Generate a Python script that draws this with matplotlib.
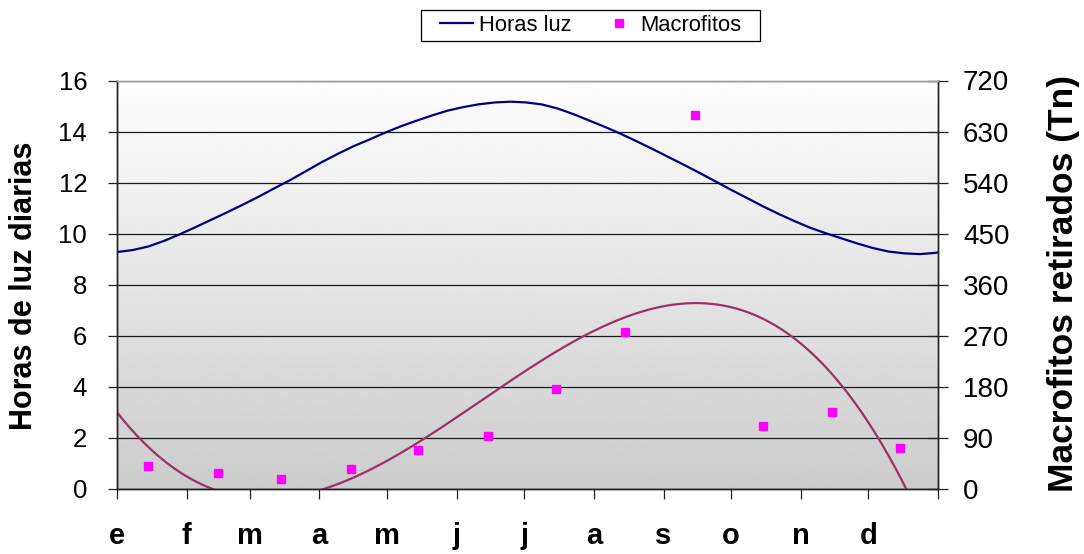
import numpy as np
import matplotlib
matplotlib.use("Agg")
import matplotlib.pyplot as plt
from matplotlib.lines import Line2D
from matplotlib.patches import Rectangle

plt.rcParams['font.family'] = ['Liberation Sans', 'DejaVu Sans']

# Month labels and the day of year on which each month starts
months = ['e', 'f', 'm', 'a', 'm', 'j', 'j', 'a', 's', 'o', 'n', 'd']
month_start = [0, 31, 59, 90, 120, 151, 181, 212, 243, 273, 304, 334]
year_end = 365

# Daily light hours, sampled weekly through the year (day of year, hours)
light_day = [0, 7, 14, 21, 28, 35, 42, 49, 56, 63, 70, 77, 84, 91, 98, 105,
             112, 119, 126, 133, 140, 147, 154, 161, 168, 175, 182, 189, 196,
             203, 210, 217, 224, 231, 238, 245, 252, 259, 266, 273, 280, 287,
             294, 301, 308, 315, 322, 329, 336, 343, 350, 357, 364, 365]
light_hours = [9.28, 9.36, 9.50, 9.72, 9.98, 10.26, 10.55, 10.84, 11.14, 11.45,
               11.78, 12.10, 12.45, 12.80, 13.12, 13.42, 13.68, 13.95, 14.20,
               14.42, 14.63, 14.82, 14.96, 15.07, 15.14, 15.17, 15.14, 15.06,
               14.90, 14.68, 14.43, 14.18, 13.91, 13.62, 13.32, 13.01, 12.70,
               12.38, 12.05, 11.72, 11.40, 11.08, 10.78, 10.50, 10.24, 10.02,
               9.82, 9.62, 9.44, 9.30, 9.23, 9.20, 9.25, 9.27]

# Macrophytes removed per month (tonnes), recorded mid-month
macro_tn = [41, 29, 18, 36, 69, 93, 176, 276, 659, 111, 136, 72]
macro_day = [d + 14 for d in month_start]

fig = plt.figure(figsize=(10.84, 5.54), dpi=100)
ax1 = fig.add_axes([117 / 1084, 65 / 554, 821 / 1084, 408.5 / 554])
ax1.patch.set_visible(False)

# Vertical grey gradient behind the plot
grad = np.linspace(0.80, 0.995, 256).reshape(-1, 1)
ax1.imshow(grad, cmap='gray', vmin=0, vmax=1, extent=[0, 1, 0, 1],
           transform=ax1.transAxes, aspect='auto', origin='lower',
           zorder=0, interpolation='bilinear')

ax1.plot(light_day, light_hours, color='#000080', lw=1.6, zorder=3,
         solid_joinstyle='round')
ax1.set_xlim(0, year_end)
ax1.set_ylim(0, 16)
ax1.set_yticks(np.arange(0, 17, 2))
ax1.yaxis.grid(True, color='#1a1a1a', lw=0.9, zorder=1)
ax1.set_axisbelow(True)

ax1.set_xticks(month_start + [year_end])
ax1.set_xticklabels(months + [''], fontsize=21, fontweight='bold')
ax1.tick_params(axis='x', direction='out', length=7, width=0.9, pad=17,
                color='#222222')
ax1.tick_params(axis='y', direction='out', length=6.5, width=0.9, pad=15,
                labelsize=18.5, color='#222222')

ax2 = ax1.twinx()
ax2.set_ylim(0, 720)
ax2.set_yticks(np.arange(0, 721, 90))
ax2.tick_params(axis='y', direction='inout', length=14, width=0.9, pad=11,
                labelsize=20, color='#222222')

# Cubic trend of the monthly removals
coef = np.polyfit(macro_day, macro_tn, 3)
xs = np.linspace(0, year_end, 500)
ax2.plot(xs, np.polyval(coef, xs), color='#993366', lw=1.6, zorder=2)
ax2.plot(macro_day, macro_tn, linestyle='none', marker='s', ms=5.8,
         color='#ff00ff', mec='#ff00ff', zorder=4)

for ax in (ax1, ax2):
    for side in ('left', 'right', 'bottom'):
        ax.spines[side].set_color('#222222')
        ax.spines[side].set_linewidth(1.0)
    ax.spines['top'].set_color('#a0a0a0')
    ax.spines['top'].set_linewidth(1.0)

fig.text(24 / 1084, 1 - 286 / 554, 'Horas de luz diarias', rotation=90,
         ha='center', va='center', fontsize=22, fontweight='bold')
fig.text(1063 / 1084, 1 - 284 / 554, 'Macrofitos retirados (Tn)', rotation=90,
         ha='center', va='center', fontsize=25.5, fontweight='bold')

handles = [Line2D([], [], color='#000080', lw=1.6),
           Line2D([], [], linestyle='none', marker='s', ms=5.8,
                  color='#ff00ff', mec='#ff00ff')]
fig.legend(handles, ['Horas luz', 'Macrofitos'], loc='center',
           bbox_to_anchor=(591 / 1084, 1 - 25.5 / 554), ncol=2,
           frameon=False, fontsize=15.8, handlelength=1.5,
           handletextpad=0.25, columnspacing=1.4, borderpad=0.3,
           numpoints=1, borderaxespad=0)
# Legend box
fig.patches.append(Rectangle((421 / 1084, 1 - 41 / 554), 339 / 1084, 31 / 554,
                             transform=fig.transFigure, fill=False,
                             edgecolor='black', lw=0.9))

fig.savefig('out.png', dpi=100)
